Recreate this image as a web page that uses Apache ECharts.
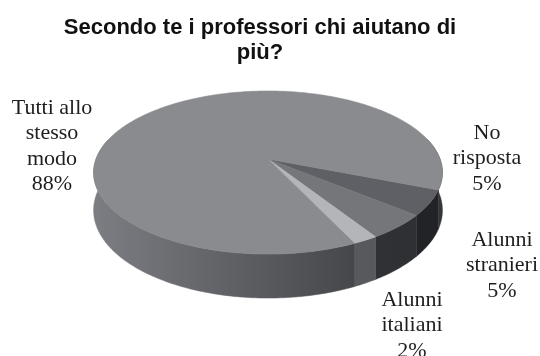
<!DOCTYPE html>
<html>
<head>
<meta charset="utf-8">
<script src="https://cdn.jsdelivr.net/npm/echarts@6/dist/echarts.min.js"></script>
<style>
  html, body { margin: 0; padding: 0; background: #ffffff; }
  #chart { width: 540px; height: 356px; }
</style>
</head>
<body>
<div id="chart"></div>
<script>
// Survey answers, listed clockwise from the right-hand edge of the disc
const categories = ['No risposta', 'Alunni stranieri', 'Alunni italiani', 'Tutti allo stesso modo'];
const labelLines = ['No\nrisposta', 'Alunni\nstranieri', 'Alunni\nitaliani', 'Tutti allo\nstesso\nmodo'];
const values = [5, 5, 2, 88];
const titleText = 'Secondo te i professori chi aiutano di\npiù?';

// Perspective disc geometry (pixels / degrees)
const geo = { cx: 268, cy: 159, rx: 172, ry: 79.3, persp: 0.166, depth: 36.7, startAngle: 21.5 };
const topColors = ['#5f6065', '#75767a', '#b4b5b8', '#8a8b8f'];
// wall colours along a horizontal gradient spanning the disc width
const wallColors = [['#252629', '#222326'], ['#333437', '#2f3033'], ['#5b5c60', '#57585c'], ['#7c7d82', '#343539']];
const labelPos = [[487, 120], [502, 227], [412, 287], [52, 95]];
const visibleWall = [-15, 195];

const total = values.reduce((a, b) => a + b, 0);
const starts = [];
let acc = geo.startAngle;
values.forEach(v => { starts.push(acc); acc += v / total * 360; });

function proj(deg, h) {
  const t = deg * Math.PI / 180;
  const X = Math.cos(t), Y = Math.sin(t);
  const d = 1 - geo.persp * Y;
  return [geo.cx + geo.rx * X / d, geo.cy + (geo.ry * Y + h) / d];
}
function arc(a0, a1, h) {
  const n = Math.max(2, Math.ceil(Math.abs(a1 - a0)));
  const pts = [];
  for (let i = 0; i <= n; i++) pts.push(proj(a0 + (a1 - a0) * i / n, h));
  return pts;
}
function sweep(i) {
  return [starts[i], starts[i] + values[i] / total * 360];
}

function renderWall(params, api) {
  const i = params.dataIndex;
  const [a0, a1] = sweep(i);
  const children = [];
  const grad = new echarts.graphic.LinearGradient(geo.cx - geo.rx, 0, geo.cx + geo.rx, 0, [
    { offset: 0, color: wallColors[i][0] },
    { offset: 1, color: wallColors[i][1] }
  ], true);
  for (let k = -1; k <= 1; k++) {
    const lo = Math.max(a0, visibleWall[0] + 360 * k);
    const hi = Math.min(a1, visibleWall[1] + 360 * k);
    if (hi > lo) {
      const pts = arc(lo, hi, 0).concat(arc(lo, hi, geo.depth).reverse());
      children.push({
        type: 'polygon',
        shape: { points: pts },
        style: { fill: grad, stroke: grad, lineWidth: 0.5 }
      });
    }
  }
  return { type: 'group', children: children };
}

function renderTop(params, api) {
  const i = params.dataIndex;
  const [a0, a1] = sweep(i);
  const pts = [[geo.cx, geo.cy]].concat(arc(a0, a1, 0));
  const pct = Math.round(api.value(1) / total * 100) + '%';
  return {
    type: 'group',
    children: [
      {
        type: 'polygon',
        shape: { points: pts },
        style: { fill: topColors[i], stroke: topColors[i], lineWidth: 0.6 }
      },
      {
        type: 'text',
        x: labelPos[i][0],
        y: labelPos[i][1],
        style: {
          text: labelLines[i] + '\n' + pct,
          fill: '#1e1e1e',
          font: '22px "Liberation Serif", "Times New Roman", serif',
          align: 'center',
          verticalAlign: 'top',
          lineHeight: 25.5
        }
      }
    ]
  };
}

const seriesData = values.map((v, i) => ({ name: categories[i], value: [i, v] }));

const chart = echarts.init(document.getElementById('chart'), null, { renderer: 'canvas' });
chart.setOption({
  animation: false,
  backgroundColor: '#ffffff',
  title: {
    text: titleText,
    left: 255,
    top: 10,
    textAlign: 'center',
    textStyle: {
      fontFamily: '"Liberation Sans", Arial, sans-serif',
      fontWeight: 'bold',
      fontSize: 22,
      lineHeight: 25,
      color: '#111111'
    }
  },
  series: [
    { type: 'custom', coordinateSystem: 'none', silent: true, renderItem: renderWall, data: seriesData, z: 1 },
    { type: 'custom', coordinateSystem: 'none', silent: true, renderItem: renderTop, data: seriesData, z: 2 }
  ]
});
</script>
</body>
</html>
